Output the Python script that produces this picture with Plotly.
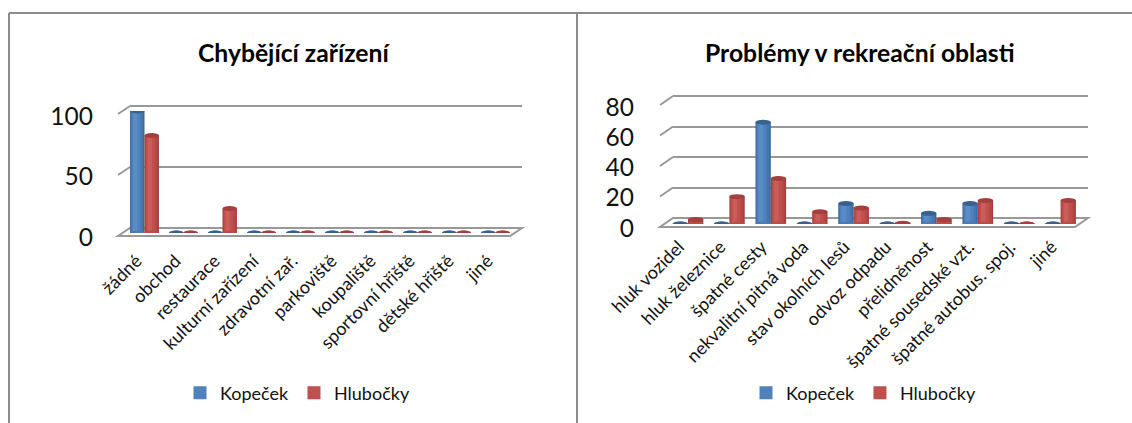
import plotly.graph_objects as go

W, H = 1132, 423

# Chart data
left_title = "Chybějící zařízení"
left_categories = ["žádné", "obchod", "restaurace", "kulturní zařízení", "zdravotní zař.",
                   "parkoviště", "koupaliště", "sportovní hřiště", "dětské hřiště", "jiné"]
left_kopecek = [100, 0, 0, 0, 0, 0, 0, 0, 0, 0]
left_hlubocky = [80, 0, 20, 0, 0, 0, 0, 0, 0, 0]
left_ticks = [0, 50, 100]

right_title = "Problémy v rekreační oblasti"
right_categories = ["hluk vozidel", "hluk železnice", "špatné cesty", "nekvalitní pitná voda",
                    "stav okolních lesů", "odvoz odpadu", "přelidněnost", "špatné sousedské vzt.",
                    "špatné autobus. spoj.", "jiné"]
right_kopecek = [0, 0, 67, 0, 13.5, 0, 7, 13.5, 0, 0]
right_hlubocky = [3, 18, 30, 8, 10.5, 0.5, 3, 15.5, 0, 15.5]
right_ticks = [0, 20, 40, 60, 80]

series_names = ["Kopeček", "Hlubočky"]

# Cylinder shading: (relative width, relative shift, colour), back to front
shades = [
    [(1.00, 0.00, "#38659a"), (0.86, -0.02, "#4576b0"), (0.62, -0.08, "#4f81bd"), (0.30, -0.14, "#5a8cc8")],
    [(1.00, 0.00, "#a23d3a"), (0.86, -0.02, "#b54845"), (0.62, -0.08, "#c0504d"), (0.30, -0.14, "#cb5c59")],
]
legend_colours = ["#4f81bd", "#c0504d"]
top_colours = ["#37628f", "#a33f3c"]
base_colours = ["#4a7bb6", "#bb4c49"]
GRID = "#989898"
FONT = "Lato, 'Open Sans', sans-serif"


def fx(px):
    return px / W


def fy(py):
    return 1 - py / H


fig = go.Figure()
layout = {}
shapes = []
annotations = []


def add_panel(idx, categories, kop, hlu, ticks, top, title, title_x, geo):
    """Draw one pseudo-3D cylinder panel on three stacked axis pairs: wall, value labels, bars."""
    a = idx * 3 + 1
    names = {k: ("" if a + i == 1 else str(a + i)) for i, k in enumerate(["wall", "label", "bar"])}

    def ax(kind, axis):
        return f"{axis}{names[kind]}"

    def key(kind, axis):
        return f"{axis}axis{names[kind]}"

    rise = (geo["back_0"] - geo["back_top"]) / top
    pad = 4  # pixels of head room so the first and last gridlines are kept
    # back wall with its gridlines
    layout[key("wall", "x")] = dict(domain=[fx(geo["back_l"]), fx(geo["back_r"])], range=[0, 1],
                                    visible=False, anchor=ax("wall", "y"))
    layout[key("wall", "y")] = dict(domain=[fy(geo["back_0"] + pad), fy(geo["back_top"] - pad)],
                                    range=[-pad / rise, top + pad / rise],
                                    tickvals=ticks, showticklabels=False, showline=False, zeroline=False,
                                    showgrid=True, gridcolor=GRID, gridwidth=2, ticks="",
                                    anchor=ax("wall", "x"))
    # value labels sit on the front edge of the side wall
    layout[key("label", "x")] = dict(domain=[fx(geo["label_r"]), fx(geo["front_l"])], range=[0, 1],
                                     visible=False, anchor=ax("label", "y"))
    layout[key("label", "y")] = dict(domain=[fy(geo["label_0"]), fy(geo["label_top"])], range=[0, top],
                                     tickvals=ticks, showgrid=False, zeroline=False, showline=False, ticks="",
                                     tickfont=dict(family=FONT, size=24.5, color="#111111"),
                                     anchor=ax("label", "x"))
    # bars; category labels lean in from just left of each pair of cylinders
    step = geo["step"]
    c0 = geo["c0"]
    dl, dr = geo["front_l"], geo["back_r"]
    layout[key("bar", "x")] = dict(domain=[fx(dl), fx(dr)],
                                   range=[(dl - c0) / step, (dr - c0) / step],
                                   tickvals=[i - geo["label_shift"] / step for i in range(len(categories))],
                                   ticktext=categories,
                                   tickangle=-45, showgrid=False, zeroline=False, showline=False, ticks="",
                                   ticklabelstandoff=geo["standoff"],
                                   tickfont=dict(family=FONT, size=18, color="#111111"),
                                   anchor=ax("bar", "y"))
    layout[key("bar", "y")] = dict(domain=[fy(geo["bar_0"]), fy(geo["bar_0"] - geo["bar_h"])], range=[0, top],
                                   visible=False, anchor=ax("bar", "x"))

    # placeholder traces keep the wall and label axes alive
    for kind in ("wall", "label"):
        fig.add_trace(go.Scatter(x=[0], y=[0], mode="markers", marker=dict(opacity=0), showlegend=False,
                                 hoverinfo="skip", xaxis=ax(kind, "x"), yaxis=ax(kind, "y")))

    bar_w = 0.37
    xs = list(range(len(categories)))
    legend_name = "legend" if idx == 0 else "legend2"
    for s, vals in enumerate([kop, hlu]):
        centre = (s - 0.5) * bar_w
        for layer, (w, shift, colour) in enumerate(shades[s]):
            fig.add_trace(go.Bar(
                x=xs, y=vals, width=bar_w * w, offset=centre + bar_w * (shift - w / 2),
                marker=dict(color=colour, line=dict(width=0)),
                name=series_names[s], showlegend=False, hoverinfo="skip",
                xaxis=ax("bar", "x"), yaxis=ax("bar", "y")))
        # legend swatch in the flat series colour
        fig.add_trace(go.Scatter(x=[None], y=[None], mode="markers", name=series_names[s],
                                 marker=dict(color=legend_colours[s], symbol="square", size=13),
                                 legend=legend_name, xaxis=ax("bar", "x"), yaxis=ax("bar", "y")))
        # round foot and top of each cylinder, anchored to the data
        half = geo["bar_px"] / 2
        for x, v in zip(xs, vals):
            for anchor, colour in ((0, base_colours[s]), (v, top_colours[s])):
                shapes.append(dict(type="circle", layer="above", xref=ax("bar", "x"), yref=ax("bar", "y"),
                                   xsizemode="pixel", ysizemode="pixel", xanchor=x + centre, yanchor=anchor,
                                   x0=-half, x1=half, y0=-2.5, y1=2.5,
                                   fillcolor=colour, line=dict(width=0)))

    # floor and side-wall connectors
    fl, fr, bl, br = geo["front_l"], geo["front_r"], geo["back_l"], geo["back_r"]
    f0, b0 = geo["front_0"], geo["back_0"]
    shapes.append(dict(type="path", layer="below", xref="paper", yref="paper",
                       path=f"M{fx(fl)},{fy(f0)}L{fx(fr)},{fy(f0)}L{fx(br)},{fy(b0)}L{fx(bl)},{fy(b0)}Z",
                       fillcolor="#ffffff", line=dict(color=GRID, width=2)))
    for t in ticks[1:]:
        yb = b0 - t * rise
        shapes.append(dict(type="line", layer="below", xref="paper", yref="paper",
                           x0=fx(fl), y0=fy(yb + f0 - b0), x1=fx(bl), y1=fy(yb),
                           line=dict(color=GRID, width=2)))

    annotations.append(dict(text=f"<b>{title}</b>", xref="paper", yref="paper",
                            x=fx(title_x), y=fy(53), xanchor="center", yanchor="middle", showarrow=False,
                            font=dict(family=FONT, size=24.7, color="#000000")))


add_panel(0, left_categories, left_kopecek, left_hlubocky, left_ticks, 100, left_title, 294,
          dict(back_l=130, back_r=522, back_0=228, back_top=106,
               front_l=118, front_r=510, front_0=236,
               label_r=94, label_0=237, label_top=116,
               c0=144.5, step=39, bar_0=233, bar_h=122, bar_px=14.5, standoff=13, label_shift=8))
add_panel(1, right_categories, right_kopecek, right_hlubocky, right_ticks, 80, right_title, 860,
          dict(back_l=673, back_r=1088, back_0=218, back_top=96,
               front_l=660, front_r=1075, front_0=227,
               label_r=635, label_0=228, label_top=107,
               c0=688, step=41.4, bar_0=224, bar_h=121.6, bar_px=15.5, standoff=8, label_shift=9))

# Panel frame
for x0, y0, x1, y1 in [(9, 13, 1132, 13), (9, 13, 9, 423), (577, 13, 577, 423)]:
    shapes.append(dict(type="line", layer="below", xref="paper", yref="paper",
                       x0=fx(x0), y0=fy(y0), x1=fx(x1), y1=fy(y1),
                       line=dict(color="#8c8c8c", width=2)))

legend_style = dict(orientation="h", xanchor="left", yanchor="middle", bgcolor="rgba(0,0,0,0)",
                    itemsizing="trace",
                    font=dict(family=FONT, size=18, color="#111111"), itemclick=False, itemdoubleclick=False)

fig.update_layout(
    width=W, height=H, margin=dict(l=0, r=0, t=0, b=0, autoexpand=False),
    paper_bgcolor="#ffffff", plot_bgcolor="rgba(0,0,0,0)",
    barmode="overlay", font=dict(family=FONT),
    shapes=shapes, annotations=annotations,
    legend=dict(x=fx(180), y=fy(393), **legend_style),
    legend2=dict(x=fx(746), y=fy(393), **legend_style),
    **layout,
)

fig.write_html("out.html")
